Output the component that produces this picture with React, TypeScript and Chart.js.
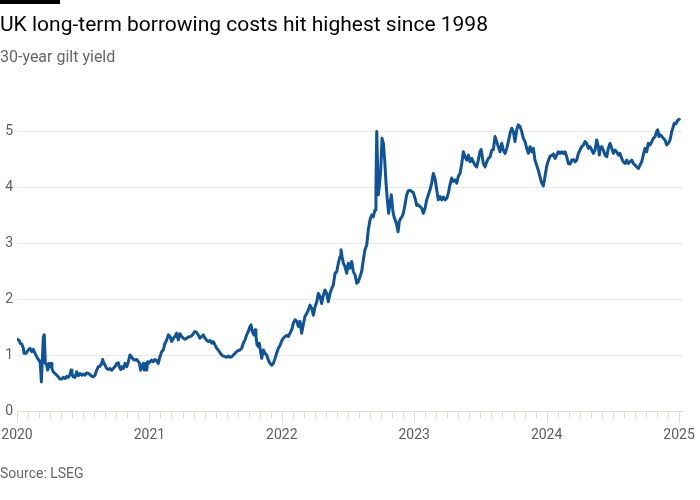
import React, { useEffect, useRef } from "react";
import { Chart, registerables } from "chart.js";

Chart.register(...registerables);

// Fraction of the year for each observation, and the 30-year gilt yield (%)
const t2020 = [0.002, 0.017, 0.023, 0.035, 0.048, 0.053, 0.068, 0.085, 0.098, 0.111, 0.123, 0.136, 0.149, 0.161, 0.174, 0.179, 0.184, 0.199, 0.206, 0.214, 0.224, 0.232, 0.239, 0.249, 0.257, 0.264, 0.274, 0.287, 0.3, 0.312, 0.325, 0.338, 0.35, 0.363, 0.375, 0.387, 0.4, 0.408, 0.415, 0.425, 0.438, 0.451, 0.463, 0.476, 0.489, 0.501, 0.514, 0.526, 0.539, 0.551, 0.564, 0.576, 0.589, 0.602, 0.614, 0.627, 0.64, 0.647, 0.657, 0.665, 0.677, 0.69, 0.702, 0.715, 0.727, 0.74, 0.753, 0.765, 0.773, 0.783, 0.791, 0.803, 0.816, 0.829, 0.841, 0.853, 0.866, 0.878, 0.891, 0.904, 0.916, 0.924, 0.934, 0.942, 0.954, 0.962, 0.969, 0.98, 0.987, 0.999];
const y2020 = [1.28, 1.26, 1.21, 1.2, 1.12, 1.03, 1.03, 1.09, 1.12, 1.06, 1.1, 1.03, 0.97, 0.92, 0.88, 0.73, 0.52, 1.33, 1.36, 0.85, 0.82, 0.73, 0.85, 0.79, 0.85, 0.76, 0.7, 0.67, 0.64, 0.61, 0.57, 0.57, 0.6, 0.58, 0.62, 0.6, 0.64, 0.73, 0.67, 0.61, 0.6, 0.7, 0.63, 0.67, 0.64, 0.66, 0.64, 0.68, 0.67, 0.65, 0.62, 0.61, 0.64, 0.73, 0.79, 0.8, 0.85, 0.92, 0.85, 0.82, 0.76, 0.74, 0.76, 0.73, 0.76, 0.79, 0.85, 0.86, 0.79, 0.74, 0.79, 0.76, 0.85, 0.79, 0.88, 1.0, 0.96, 0.92, 0.91, 0.92, 0.88, 0.86, 0.73, 0.79, 0.85, 0.73, 0.85, 0.73, 0.88, 0.86];

const t2021 = [0.017, 0.029, 0.042, 0.055, 0.067, 0.08, 0.093, 0.105, 0.118, 0.131, 0.143, 0.156, 0.168, 0.181, 0.193, 0.206, 0.218, 0.231, 0.244, 0.256, 0.269, 0.282, 0.294, 0.307, 0.319, 0.332, 0.344, 0.357, 0.369, 0.382, 0.395, 0.407, 0.42, 0.433, 0.445, 0.458, 0.471, 0.483, 0.495, 0.508, 0.52, 0.533, 0.546, 0.558, 0.571, 0.584, 0.596, 0.609, 0.622, 0.634, 0.647, 0.659, 0.671, 0.684, 0.697, 0.709, 0.722, 0.735, 0.747, 0.76, 0.767, 0.777, 0.788, 0.798, 0.805, 0.813, 0.823, 0.83, 0.838, 0.848, 0.861, 0.873, 0.886, 0.898, 0.911, 0.924, 0.936, 0.949, 0.961, 0.974, 0.986, 0.999];
const y2021 = [0.91, 0.88, 0.92, 0.9, 0.85, 0.97, 1.06, 1.09, 1.21, 1.27, 1.36, 1.33, 1.24, 1.3, 1.33, 1.39, 1.27, 1.38, 1.33, 1.3, 1.28, 1.3, 1.32, 1.33, 1.34, 1.38, 1.42, 1.4, 1.36, 1.3, 1.33, 1.36, 1.3, 1.26, 1.24, 1.26, 1.21, 1.24, 1.18, 1.12, 1.09, 1.04, 1.0, 0.98, 0.97, 0.96, 0.98, 0.96, 0.97, 1.0, 1.03, 1.06, 1.08, 1.09, 1.12, 1.21, 1.27, 1.36, 1.42, 1.51, 1.54, 1.42, 1.36, 1.45, 1.33, 1.18, 1.15, 1.21, 1.09, 0.94, 1.09, 1.03, 1.0, 0.91, 0.85, 0.82, 0.85, 0.94, 1.03, 1.12, 1.17, 1.25];

const t2022 = [0.011, 0.024, 0.037, 0.049, 0.062, 0.075, 0.087, 0.1, 0.113, 0.125, 0.137, 0.15, 0.162, 0.175, 0.188, 0.2, 0.213, 0.226, 0.238, 0.251, 0.264, 0.276, 0.289, 0.301, 0.314, 0.326, 0.339, 0.351, 0.364, 0.377, 0.389, 0.402, 0.415, 0.427, 0.44, 0.447, 0.455, 0.465, 0.477, 0.49, 0.502, 0.515, 0.528, 0.54, 0.553, 0.566, 0.578, 0.591, 0.603, 0.616, 0.628, 0.641, 0.653, 0.666, 0.679, 0.691, 0.704, 0.711, 0.717, 0.721, 0.729, 0.736, 0.747, 0.757, 0.767, 0.777, 0.787, 0.797, 0.807, 0.817, 0.827, 0.838, 0.847, 0.857, 0.868, 0.878, 0.887, 0.898, 0.908, 0.918, 0.93, 0.943, 0.955, 0.968, 0.993];
const y2022 = [1.3, 1.33, 1.35, 1.33, 1.39, 1.45, 1.57, 1.63, 1.6, 1.51, 1.6, 1.39, 1.54, 1.69, 1.74, 1.8, 1.89, 1.83, 1.71, 1.86, 1.95, 2.1, 2.04, 1.92, 2.07, 2.16, 2.1, 1.95, 2.1, 2.19, 2.25, 2.46, 2.49, 2.64, 2.76, 2.88, 2.76, 2.64, 2.58, 2.46, 2.64, 2.55, 2.67, 2.49, 2.43, 2.28, 2.31, 2.4, 2.49, 2.7, 2.88, 2.96, 3.23, 3.41, 3.5, 3.47, 3.59, 4.0, 4.99, 4.6, 3.86, 4.0, 4.3, 4.87, 4.78, 4.48, 4.07, 3.77, 3.53, 3.71, 3.86, 3.59, 3.47, 3.41, 3.32, 3.2, 3.38, 3.44, 3.47, 3.53, 3.68, 3.86, 3.93, 3.94, 3.9];

const t2023 = [0.006, 0.019, 0.031, 0.044, 0.057, 0.069, 0.082, 0.094, 0.107, 0.119, 0.132, 0.144, 0.157, 0.17, 0.182, 0.195, 0.208, 0.22, 0.233, 0.246, 0.258, 0.27, 0.283, 0.295, 0.308, 0.321, 0.333, 0.346, 0.359, 0.371, 0.384, 0.397, 0.409, 0.422, 0.434, 0.446, 0.459, 0.472, 0.484, 0.497, 0.505, 0.512, 0.522, 0.535, 0.548, 0.56, 0.573, 0.586, 0.598, 0.61, 0.623, 0.635, 0.648, 0.661, 0.673, 0.686, 0.699, 0.711, 0.724, 0.736, 0.749, 0.761, 0.774, 0.786, 0.799, 0.812, 0.824, 0.837, 0.85, 0.862, 0.875, 0.887, 0.9, 0.912, 0.925, 0.937, 0.95, 0.963, 0.975, 0.983, 0.99];
const y2023 = [3.8, 3.67, 3.68, 3.65, 3.62, 3.53, 3.62, 3.77, 3.86, 3.95, 4.07, 4.24, 4.15, 3.95, 3.77, 3.83, 3.77, 3.82, 3.77, 3.8, 3.89, 4.04, 4.16, 4.1, 4.13, 4.07, 4.19, 4.24, 4.42, 4.63, 4.54, 4.48, 4.57, 4.45, 4.51, 4.45, 4.39, 4.36, 4.48, 4.63, 4.67, 4.57, 4.42, 4.36, 4.45, 4.51, 4.54, 4.66, 4.67, 4.9, 4.81, 4.72, 4.63, 4.78, 4.66, 4.6, 4.69, 4.81, 4.96, 5.05, 4.99, 4.81, 5.02, 5.11, 5.08, 4.99, 4.87, 4.81, 4.69, 4.6, 4.72, 4.63, 4.69, 4.48, 4.39, 4.3, 4.18, 4.07, 4.02, 4.12, 4.22];

const t2024 = [0.001, 0.013, 0.026, 0.038, 0.051, 0.064, 0.076, 0.088, 0.101, 0.114, 0.126, 0.139, 0.152, 0.164, 0.177, 0.19, 0.202, 0.215, 0.227, 0.24, 0.252, 0.265, 0.278, 0.29, 0.303, 0.315, 0.328, 0.341, 0.353, 0.366, 0.378, 0.391, 0.398, 0.406, 0.416, 0.428, 0.441, 0.454, 0.466, 0.479, 0.492, 0.504, 0.517, 0.529, 0.542, 0.554, 0.567, 0.579, 0.592, 0.605, 0.617, 0.63, 0.643, 0.655, 0.668, 0.68, 0.693, 0.705, 0.718, 0.73, 0.743, 0.756, 0.768, 0.781, 0.794, 0.806, 0.819, 0.831, 0.839, 0.849, 0.859, 0.869, 0.881, 0.894, 0.907, 0.919, 0.932, 0.945, 0.957, 0.964, 0.977, 0.985, 0.995];
const y2024 = [4.38, 4.47, 4.55, 4.56, 4.59, 4.51, 4.57, 4.63, 4.6, 4.63, 4.6, 4.63, 4.54, 4.42, 4.41, 4.48, 4.49, 4.45, 4.48, 4.6, 4.66, 4.72, 4.75, 4.81, 4.78, 4.69, 4.72, 4.66, 4.6, 4.66, 4.84, 4.72, 4.57, 4.69, 4.72, 4.66, 4.57, 4.54, 4.69, 4.78, 4.69, 4.6, 4.66, 4.63, 4.57, 4.6, 4.51, 4.45, 4.42, 4.48, 4.42, 4.45, 4.48, 4.42, 4.39, 4.36, 4.33, 4.39, 4.45, 4.57, 4.69, 4.63, 4.78, 4.75, 4.81, 4.87, 4.9, 4.99, 5.02, 4.9, 4.93, 4.91, 4.87, 4.84, 4.75, 4.78, 4.84, 4.99, 5.08, 5.14, 5.13, 5.17, 5.2];

const t2025 = [0.002];
const y2025 = [5.21];

const years = [2020, 2021, 2022, 2023, 2024, 2025];
const yearFractions = [t2020, t2021, t2022, t2023, t2024, t2025];
const yearValues = [y2020, y2021, y2022, y2023, y2024, y2025];

const xTickLabels = [2020, 2021, 2022, 2023, 2024, 2025];
const yTickValues = [0, 1, 2, 3, 4, 5];

const TITLE = "UK long-term borrowing costs hit highest since 1998";
const SUBTITLE = "30-year gilt yield";
const SOURCE = "Source: LSEG";

const FONT = "Roboto, 'Noto Sans', sans-serif";
const LINE_COLOR = "#0f5499";
const LABEL_COLOR = "#5e5e5e";
const GRID_COLOR = "#e8e8e8";
const AXIS_COLOR = "#e2dbd4";

const axisPlugin = {
  id: "ftAxis",
  beforeDatasetsDraw(chart: any) {
    const { ctx, chartArea, scales } = chart;
    const xs = scales.x;
    const ys = scales.y;
    const y0 = Math.round(ys.getPixelForValue(0)) + 0.5;
    ctx.save();
    ctx.strokeStyle = AXIS_COLOR;
    ctx.lineWidth = 1;
    ctx.beginPath();
    ctx.moveTo(chartArea.left, y0);
    ctx.lineTo(chartArea.right, y0);
    const first = xTickLabels[0];
    const months = (xTickLabels[xTickLabels.length - 1] - first) * 12;
    for (let m = 0; m <= months; m++) {
      const px = Math.round(xs.getPixelForValue(first + m / 12)) + 0.5;
      const len = m % 12 === 0 ? 11 : 7;
      ctx.moveTo(px, y0);
      ctx.lineTo(px, y0 + len);
    }
    ctx.stroke();
    ctx.restore();
  },
};

export default function App() {
  const canvasRef = useRef<HTMLCanvasElement | null>(null);

  useEffect(() => {
    const canvas = canvasRef.current;
    if (!canvas) return;
    const points: { x: number; y: number }[] = [];
    years.forEach((yr, k) => {
      const ts = yearFractions[k];
      const vs = yearValues[k];
      const n = Math.min(ts.length, vs.length);
      for (let i = 0; i < n; i++) points.push({ x: yr + ts[i], y: vs[i] });
    });

    const chart = new Chart(canvas, {
      type: "line",
      data: {
        datasets: [
          {
            data: points,
            borderColor: LINE_COLOR,
            borderWidth: 3,
            pointRadius: 0,
            tension: 0,
            borderJoinStyle: "round",
            borderCapStyle: "round",
          } as any,
        ],
      },
      options: {
        responsive: false,
        animation: false,
        events: [],
        layout: { padding: { top: 103, right: 17, left: 0, bottom: 0 } },
        plugins: {
          legend: { display: false },
          tooltip: { enabled: false },
          title: { display: false },
        },
        scales: {
          x: {
            type: "linear",
            min: 2020,
            max: 2025.03,
            afterBuildTicks: (s: any) => {
              s.ticks = xTickLabels.map((v) => ({ value: v }));
            },
            afterFit: (s: any) => {
              s.height = 89;
              s.paddingLeft = 0;
              s.paddingRight = 0;
            },
            ticks: {
              autoSkip: false,
              maxRotation: 0,
              padding: 0,
              color: LABEL_COLOR,
              font: { family: FONT, size: 14 },
              callback: (v: any) => String(v),
            },
            grid: {
              display: true,
              drawOnChartArea: false,
              drawTicks: true,
              tickLength: 16,
              tickColor: "rgba(0,0,0,0)",
              color: "rgba(0,0,0,0)",
            },
            border: { display: false },
          },
          y: {
            min: 0,
            max: 5.5,
            afterBuildTicks: (s: any) => {
              s.ticks = yTickValues.map((v) => ({ value: v }));
            },
            afterFit: (s: any) => {
              s.width = 17;
            },
            ticks: {
              padding: 4,
              color: LABEL_COLOR,
              font: { family: FONT, size: 14 },
              callback: (v: any) => String(v),
            },
            grid: {
              drawTicks: false,
              color: (c: any) => (c.tick && c.tick.value === 0 ? "rgba(0,0,0,0)" : GRID_COLOR),
            },
            border: { display: false },
          },
        },
      },
      plugins: [axisPlugin],
    });
    return () => chart.destroy();
  }, []);

  return (
    <div
      style={{
        position: "fixed",
        left: 0,
        top: 0,
        width: 700,
        height: 500,
        background: "#ffffff",
        overflow: "hidden",
        fontFamily: FONT,
      }}
    >
      <canvas
        ref={canvasRef}
        width={700}
        height={500}
        style={{ position: "absolute", left: 0, top: 0, width: 700, height: 500 }}
      />
      <div style={{ position: "absolute", left: 0, top: 0, width: 60, height: 4, background: "#000" }} />
      <div
        style={{
          position: "absolute",
          left: 0,
          top: 12,
          fontSize: 21,
          lineHeight: "25px",
          color: "#000",
          whiteSpace: "nowrap",
        }}
      >
        {TITLE}
      </div>
      <div
        style={{
          position: "absolute",
          left: 0,
          top: 47,
          fontSize: 16,
          lineHeight: "19px",
          color: "#666",
          whiteSpace: "nowrap",
        }}
      >
        {SUBTITLE}
      </div>
      <div
        style={{
          position: "absolute",
          left: 0,
          top: 465,
          fontSize: 14,
          lineHeight: "17px",
          color: "#666",
          whiteSpace: "nowrap",
        }}
      >
        {SOURCE}
      </div>
    </div>
  );
}
